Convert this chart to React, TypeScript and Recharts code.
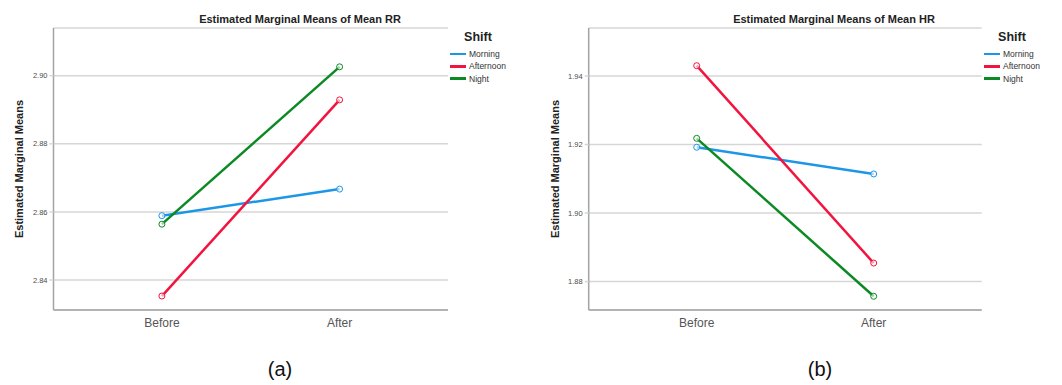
import React from 'react';
import { LineChart, Line, XAxis, YAxis, CartesianGrid } from 'recharts';

const categories = ['Before', 'After'];
const seriesNames = ['Morning', 'Afternoon', 'Night'];
const seriesColors = ['#1E96E8', '#F2143E', '#0B8A23'];

const rrMorning = [2.8589, 2.8667];
const rrAfternoon = [2.8353, 2.8929];
const rrNight = [2.8564, 2.9026];
const rrTicks = [2.84, 2.86, 2.88, 2.9];
const rrDomain = [2.8312, 2.914];

const hrMorning = [1.9192, 1.9114];
const hrAfternoon = [1.943, 1.8854];
const hrNight = [1.9218, 1.8757];
const hrTicks = [1.88, 1.9, 1.92, 1.94];
const hrDomain = [1.8717, 1.954];

const FONT = '"Liberation Sans", Arial, sans-serif';

function buildData(series: number[][]) {
  return categories.map((c, i) => {
    const row: any = { cat: c };
    seriesNames.forEach((n, k) => {
      row[n] = series[k][i];
    });
    return row;
  });
}

type PanelProps = {
  left: number;
  width: number;
  plotLeft: number;
  plotRight: number;
  xPad: number;
  series: number[][];
  ticks: number[];
  domain: number[];
  title: string;
  titleX: number;
  ylabelX: number;
  legendX: number;
  caption: string;
  captionX: number;
};

function Panel(p: PanelProps) {
  const data = buildData(p.series);
  const H = 385;
  const top = 28;
  const bottom = 310;
  return (
    <div style={{ position: 'absolute', left: p.left, top: 0, width: p.width, height: H }}>
      <LineChart
        width={p.width}
        height={H}
        data={data}
        margin={{ top: top, left: 0, right: p.width - p.plotRight, bottom: H - bottom - 30 }}
      >
        <CartesianGrid vertical={false} stroke="#d6d6d6" strokeWidth={1.5} />
        <XAxis
          dataKey="cat"
          padding={{ left: p.xPad, right: p.xPad }}
          height={30}
          axisLine={{ stroke: '#a3a3a3', strokeWidth: 1.5 }}
          tickLine={false}
          tick={{ fontSize: 12, fill: '#555', fontFamily: FONT }}
        />
        <YAxis
          type="number"
          domain={p.domain}
          ticks={p.ticks}
          allowDataOverflow
          width={p.plotLeft}
          tickSize={4}
          tickMargin={2}
          tickFormatter={(v: number) => v.toFixed(2)}
          axisLine={{ stroke: '#a3a3a3', strokeWidth: 1.5 }}
          tickLine={{ stroke: '#d6d6d6', strokeWidth: 1.5 }}
          tick={{ fontSize: 7.5, fill: '#4a4a4a', fontFamily: FONT }}
        />
        {seriesNames.map((n, k) => (
          <Line
            key={n}
            dataKey={n}
            stroke={seriesColors[k]}
            strokeWidth={2.5}
            isAnimationActive={false}
            dot={{ r: 3, fill: '#fff', fillOpacity: 0.6, stroke: seriesColors[k], strokeWidth: 1 }}
          />
        ))}
      </LineChart>
      <div
        style={{
          position: 'absolute', left: p.titleX - 150, width: 300, top: 13, textAlign: 'center',
          fontFamily: FONT, fontWeight: 'bold', fontSize: 11, color: '#222',
        }}
      >
        {p.title}
      </div>
      <div
        style={{
          position: 'absolute', left: p.ylabelX - 100, top: 169 - 8, width: 200, height: 16,
          lineHeight: '16px', textAlign: 'center', transform: 'rotate(-90deg)',
          fontFamily: FONT, fontWeight: 'bold', fontSize: 11, color: '#222',
        }}
      >
        Estimated Marginal Means
      </div>
      <div
        style={{
          position: 'absolute', left: p.legendX - 30, width: 60, top: 30, textAlign: 'center',
          fontFamily: FONT, fontWeight: 'bold', fontSize: 12.5, color: '#222',
        }}
      >
        Shift
      </div>
      {seriesNames.map((n, k) => (
        <div key={n} style={{ position: 'absolute', left: p.legendX - 28, top: 49 + k * 12.3, height: 10, display: 'flex', alignItems: 'center' }}>
          <div style={{ width: 16, height: 2.5, background: seriesColors[k] }} />
          <span style={{ marginLeft: 3, fontFamily: FONT, fontSize: 8.5, color: '#333', lineHeight: '10px' }}>{n}</span>
        </div>
      ))}
      <div
        style={{
          position: 'absolute', left: p.captionX - 40, width: 80, top: 358, textAlign: 'center',
          fontFamily: FONT, fontSize: 20, color: '#111',
        }}
      >
        {p.caption}
      </div>
    </div>
  );
}

export default function App() {
  return (
    <div style={{ position: 'relative', width: 1062, height: 385, background: '#fff', overflow: 'hidden' }}>
      <style>{'body{margin:0;}'}</style>
      <Panel
        left={0}
        width={530}
        plotLeft={53.5}
        plotRight={448}
        xPad={108.4}
        series={[rrMorning, rrAfternoon, rrNight]}
        ticks={rrTicks}
        domain={rrDomain}
        title="Estimated Marginal Means of Mean RR"
        titleX={300}
        ylabelX={19}
        legendX={478}
        caption="(a)"
        captionX={280}
      />
      <Panel
        left={530}
        width={532}
        plotLeft={58.7}
        plotRight={451.7}
        xPad={108}
        series={[hrMorning, hrAfternoon, hrNight]}
        ticks={hrTicks}
        domain={hrDomain}
        title="Estimated Marginal Means of Mean HR"
        titleX={304}
        ylabelX={25}
        legendX={482}
        caption="(b)"
        captionX={290}
      />
    </div>
  );
}
